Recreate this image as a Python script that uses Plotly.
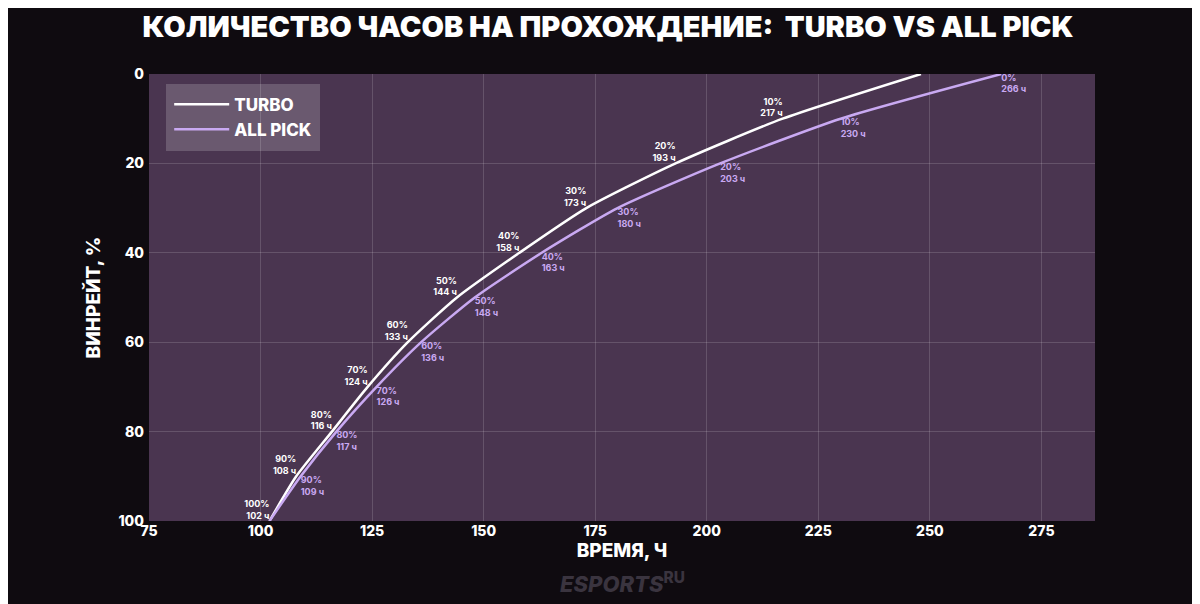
import plotly.graph_objects as go

# --- Данные ---
winrate = [100, 90, 80, 70, 60, 50, 40, 30, 20, 10, 0]
turbo_hours = [102, 108, 116, 124, 133, 144, 158, 173, 193, 217, 248]
allpick_hours = [102, 109, 117, 126, 136, 148, 163, 180, 203, 230, 266]

turbo_labels = [f"{w}%<br>{h} ч" for w, h in zip(winrate, turbo_hours)]
allpick_labels = [f"{w}%<br>{h} ч" for w, h in zip(winrate, allpick_hours)]

FONT = "Inter"

fig = go.Figure()

fig.add_trace(go.Scatter(
    x=turbo_hours, y=winrate, name="TURBO",
    mode="lines+text", text=turbo_labels, textposition="top left",
    textfont=dict(family=FONT, size=9, color="white", weight=700),
    line=dict(color="white", width=2.5, shape="spline", smoothing=0.6),
))
fig.add_trace(go.Scatter(
    x=allpick_hours, y=winrate, name="ALL PICK",
    mode="lines+text", text=allpick_labels, textposition="bottom right",
    textfont=dict(family=FONT, size=9, color="#c9a9f2", weight=700),
    line=dict(color="#c9a9f2", width=2.5, shape="spline", smoothing=0.6),
))

fig.update_layout(
    width=1200, height=604,
    paper_bgcolor="#0f0b10",
    plot_bgcolor="#4a3550",
    margin=dict(l=141, r=113, t=66, b=91),
    title=dict(text="КОЛИЧЕСТВО ЧАСОВ НА ПРОХОЖДЕНИЕ:  TURBO VS ALL PICK",
               x=0.5, y=0.985, xanchor="center", yanchor="top",
               font=dict(family=FONT, size=29, color="white", weight=900)),
    font=dict(family=FONT, color="white"),
    legend=dict(x=0.015, y=0.985, xanchor="left", yanchor="top",
                bgcolor="rgba(255,255,255,0.18)",
                font=dict(family=FONT, size=17, color="white", weight=800),
                itemwidth=55, borderwidth=6, bordercolor="rgba(0,0,0,0)"),
    showlegend=True,
)
fig.update_xaxes(
    range=[75, 287], tick0=75, dtick=25,
    title=dict(text="ВРЕМЯ, Ч", font=dict(family=FONT, size=19, weight=800), standoff=4),
    tickfont=dict(family=FONT, size=14, weight=800, color="white"),
    gridcolor="rgba(255,255,255,0.15)", zeroline=False,
)
fig.update_yaxes(
    range=[100, 0], tick0=0, dtick=20,
    title=dict(text="ВИНРЕЙТ, %", font=dict(family=FONT, size=19, weight=800), standoff=12),
    tickfont=dict(family=FONT, size=14, weight=800, color="white"),
    ticklabelstandoff=4,
    gridcolor="rgba(255,255,255,0.15)", zeroline=False,
)

fig.add_annotation(
    text="<i>ESPORTS</i><sup>RU</sup>", xref="paper", yref="paper",
    x=0.5, y=-0.1, yanchor="top", showarrow=False,
    font=dict(family=FONT, size=22, color="#3a343f", weight=800),
)

fig.write_html("out.html")
